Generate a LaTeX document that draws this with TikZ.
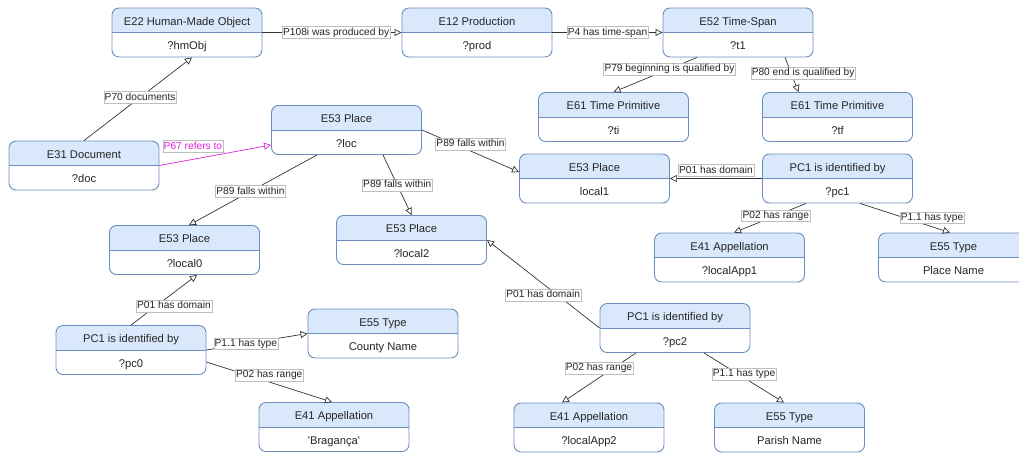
\documentclass[tikz,border=0pt]{standalone}
\usepackage{fontspec}
\setmainfont{Liberation Sans}
\usepackage{xcolor}
\definecolor{hdrblue}{HTML}{DAE8FC}
\definecolor{boxline}{HTML}{6C8EBF}
\definecolor{relmag}{HTML}{DD22DD}
\usepackage{tikz}
\usetikzlibrary{positioning,arrows.meta,calc}
\newcommand{\boxtxt}[2]{\strut #1\\\strut #2}

\begin{document}
\begin{tikzpicture}[x=1pt,y=-1pt,
	entity/.style={draw=boxline, line width=0.9pt, rounded corners=7pt, fill=white,
		minimum width=150pt, minimum height=49pt, inner sep=0pt, align=center,
		font=\fontsize{11.2}{24.5}\selectfont, text=black!85,
		path picture={
			\fill[hdrblue, sharp corners] (path picture bounding box.north west) rectangle ([yshift=-24.5pt]path picture bounding box.north east);
			\draw[boxline, line width=0.9pt, sharp corners] ([yshift=-24.5pt]path picture bounding box.north west) -- ([yshift=-24.5pt]path picture bounding box.north east);}},
	rel/.style={draw=black!80, line width=0.7pt, -{Triangle[open,length=7pt,width=7pt]}},
	lab/.style={fill=white, draw=black!25, line width=0.3pt, inner xsep=1pt, inner ysep=1pt,
		text height=7.6pt, text depth=2.2pt, font=\fontsize{10.2}{12}\selectfont, text=black!85}]
	\useasboundingbox (0,0) rectangle (1019,452);
	
	% draw nodes
	\node[entity] (hmObj) at (187,32.5) {\boxtxt{E22 Human-Made Object}{?hmObj}};
	\node[entity] (prod) at (477,32.5) {\boxtxt{E12 Production}{?prod}};
	\node[entity] (t1) at (738,32.5) {\boxtxt{E52 Time-Span}{?t1}};
	\node[entity] (ti) at (613.5,117) {\boxtxt{E61 Time Primitive}{?ti}};
	\node[entity] (tf) at (837.5,117) {\boxtxt{E61 Time Primitive}{?tf}};
	\node[entity] (doc) at (84,165.5) {\boxtxt{E31 Document}{?doc}};
	\node[entity] (loc) at (346.5,130) {\boxtxt{E53 Place}{?loc}};
	\node[entity] (local1) at (594.5,178.5) {\boxtxt{E53 Place}{local1}};
	\node[entity] (pc1) at (837.5,178.5) {\boxtxt{PC1 is identified by}{?pc1}};
	\node[entity] (local0) at (184.5,250) {\boxtxt{E53 Place}{?local0}};
	\node[entity] (local2) at (411.5,240) {\boxtxt{E53 Place}{?local2}};
	\node[entity] (localApp1) at (729.5,257.5) {\boxtxt{E41 Appellation}{?localApp1}};
	\node[entity] (placeName) at (953.5,257.5) {\boxtxt{E55 Type}{Place Name}};
	\node[entity] (pc2) at (675,328) {\boxtxt{PC1 is identified by}{?pc2}};
	\node[entity] (county) at (383,333.5) {\boxtxt{E55 Type}{County Name}};
	\node[entity] (pc0) at (131,350) {\boxtxt{PC1 is identified by}{?pc0}};
	\node[entity] (braganca) at (334,427) {\boxtxt{E41 Appellation}{\textquotesingle Bragança\textquotesingle}};
	\node[entity] (localApp2) at (589,427.5) {\boxtxt{E41 Appellation}{?localApp2}};
	\node[entity] (parish) at (789.5,427.5) {\boxtxt{E55 Type}{Parish Name}};
	
	% draw relations
	\draw[rel] (doc.north) -- ([xshift=5pt]hmObj.south) node[lab,pos=0.52] {P70 documents};
	\draw[rel] (hmObj.east) -- (prod.west) node[lab,pos=0.53] {P108i was produced by};
	\draw[rel] (prod.east) -- (t1.west) node[lab,pos=0.5] {P4 has time-span};
	\draw[rel] ([xshift=-41pt]t1.south) -- (ti.north) node[lab,pos=0.33] {P79 beginning is qualified by};
	\draw[rel] ([xshift=47pt]t1.south) -- ([xshift=-39pt]tf.north) node[lab,pos=0.45,xshift=12pt] {P80 end is qualified by};
	\draw[rel,draw=relmag] (doc.east) -- ([yshift=-15pt]loc.west) node[lab,pos=0.3,yshift=13pt,text=relmag] {P67 refers to};
	\draw[rel] (loc.east) -- ([yshift=6.5pt]local1.west) node[lab,pos=0.5,yshift=7pt] {P89 falls within};
	\draw[rel] ([xshift=-29.5pt]loc.south) -- ([xshift=4.5pt]local0.north) node[lab,pos=0.52] {P89 falls within};
	\draw[rel] ([xshift=36.5pt]loc.south) -- (local2.north) node[lab,pos=0.5] {P89 falls within};
	
	%%% identified by
	\draw[rel] (pc1.west) -- (local1.east) node[lab,pos=0.5,yshift=8pt] {P01 has domain};
	\draw[rel] ([xshift=-31.5pt]pc1.south) -- ([xshift=4.5pt]localApp1.north) node[lab,pos=0.42] {P02 has range};
	\draw[rel] ([xshift=22.5pt]pc1.south) -- ([xshift=-3.5pt]placeName.north) node[lab,pos=0.8,yshift=9pt] {P1.1 has type};
	\draw[rel] (pc2.west) -- (local2.east) node[lab,pos=0.5,yshift=-11pt] {P01 has domain};
	\draw[rel] ([xshift=-39pt]pc2.south) -- ([xshift=-27pt]localApp2.north) node[lab,pos=0.5,yshift=10pt] {P02 has range};
	\draw[rel] ([xshift=29pt]pc2.south) -- ([xshift=-5.5pt]parish.north) node[lab,pos=0.5,yshift=4pt] {P1.1 has type};
	\draw[rel] (pc0.north) -- ([xshift=12.5pt]local0.south) node[lab,pos=0.5,xshift=10pt,yshift=-6pt] {P01 has domain};
	\draw[rel] (pc0.east) -- (county.west) node[lab,pos=0.39] {P1.1 has type};
	\draw[rel] ([yshift=-12pt]pc0.east) -- ([xshift=-2pt]braganca.north) node[lab,pos=0.5,yshift=7pt] {P02 has range};
	
\end{tikzpicture}
\end{document}
